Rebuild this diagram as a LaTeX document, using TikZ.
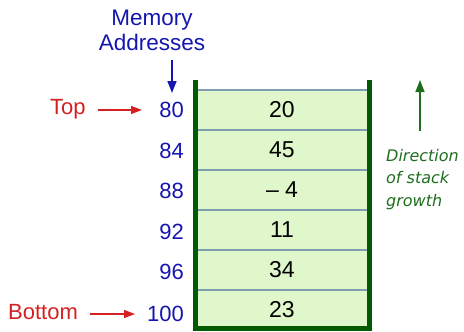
\documentclass[tikz,border=0pt]{standalone}
\usepackage{fontspec}
\setmainfont{Liberation Sans}
\newfontfamily\dirfont{DejaVu Sans}
\usetikzlibrary{arrows.meta}
\definecolor{wallgreen}{HTML}{005A00}
\definecolor{cellfill}{HTML}{E0F7CC}
\definecolor{cellline}{HTML}{7F9FB0}
\definecolor{addrblue}{HTML}{1515B0}
\definecolor{labred}{HTML}{D42020}
\definecolor{dirgreen}{HTML}{1E6E1E}
\begin{document}
\begin{tikzpicture}[x=1pt,y=-1pt,
  cell/.style={draw=cellline,line width=1.2pt,fill=cellfill,minimum width=172pt,minimum height=40pt,inner sep=0pt,font=\fontsize{23}{25}\selectfont,text=black},
  addr/.style={anchor=east,text=addrblue,font=\fontsize{22}{24}\selectfont,inner sep=0pt},
  lab/.style={text=labred,font=\fontsize{22}{24}\selectfont,inner sep=0pt},
  redarrow/.style={draw=labred,line width=1.3pt,-{Triangle[length=11pt,width=8pt]}},
  wall/.style={draw=wallgreen,line width=5pt}]
\useasboundingbox (0,0) rectangle (464,332);
% cells
\node[cell] (c1) at (282,110) {20};
\node[cell] (c2) at (282,150) {45};
\node[cell] (c3) at (282,190) {– 4};
\node[cell] (c4) at (282,230) {11};
\node[cell] (c5) at (282,270) {34};
\node[cell] (c6) at (282,310) {23};
% walls
\coordinate (wtl) at (195,80);
\coordinate (wbl) at (195,328);
\coordinate (wbr) at (369,328);
\coordinate (wtr) at (369,80);
\draw[wall,line join=miter] (wtl) -- (wbl) -- (wbr) -- (wtr);
% addresses
\node[addr] (a1) at (184,110) {80};
\node[addr] (a2) at (184,151) {84};
\node[addr] (a3) at (184,191) {88};
\node[addr] (a4) at (184,232) {92};
\node[addr] (a5) at (184,272) {96};
\node[addr] (a6) at (184,314) {100};
% memory addresses label
\node[text=addrblue,font=\fontsize{22.5}{25}\selectfont,align=center,inner sep=0pt] (mem) at (152,30) {Memory\\Addresses};
\coordinate (mtop) at (172,60);
\coordinate (mbot) at (172,93);
\draw[draw=addrblue,line width=1.6pt,-{Triangle[length=12pt,width=9pt]}] (mtop) -- (mbot);
% top / bottom
\node[lab,anchor=west] (top) at (50,109) {Top};
\node[lab,anchor=west] (bot) at (8,312) {Bottom};
\coordinate (t1) at (98,110);
\coordinate (t2) at (142,110);
\coordinate (b1) at (90,314);
\coordinate (b2) at (135,314);
\draw[redarrow] (t1) -- (t2);
\draw[redarrow] (b1) -- (b2);
% direction
\coordinate (g1) at (420,131);
\coordinate (g2) at (420,80);
\draw[draw=dirgreen,line width=1.6pt,-{Triangle[length=12pt,width=9pt]}] (g1) -- (g2);
\node[text=dirgreen,font=\dirfont\itshape\fontsize{16}{22.5}\selectfont,align=left,anchor=north west,inner sep=0pt] (dir) at (386,149) {Direction\\of stack\\growth};
\end{tikzpicture}
\end{document}
